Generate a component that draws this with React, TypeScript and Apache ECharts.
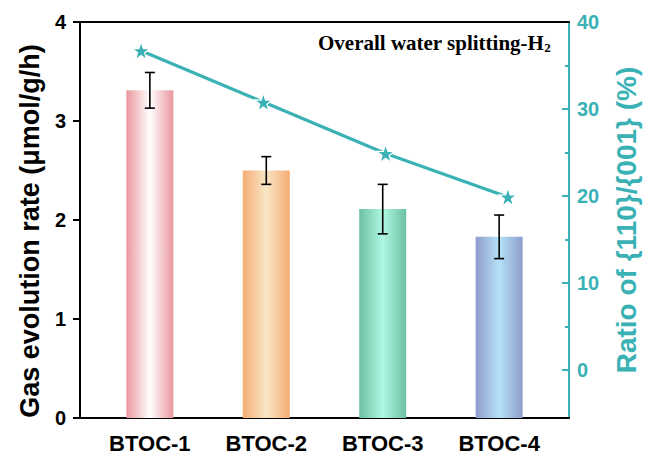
import React, { useEffect, useRef } from "react";
import * as echarts from "echarts";

const categories = ["BTOC-1", "BTOC-2", "BTOC-3", "BTOC-4"];
const rates = [3.31, 2.5, 2.11, 1.83];
const rateErrors = [0.18, 0.14, 0.25, 0.22];
const facetRatio = [36.7, 30.8, 24.9, 19.9];
const leftTicks = [0, 1, 2, 3, 4];
const rightTicks = [0, 10, 20, 30, 40];
const rightMinorTicks = [5, 15, 25, 35];

const barEdge = ["#E9979D", "#F5AD74", "#6BC0A4", "#8F9BCB"];
const barCenter = ["#FFFFFF", "#F9E6C6", "#AFF7E2", "#B5E3F7"];

// axis ranges
const X_MIN = -0.6;
const X_MAX = 3.6;
const Y_MIN = 0;
const Y_MAX = 4;

const TEAL = "#3AB2B5";
const STAR =
  "path://M50,0 L61.8,35.1 L97.6,34.5 L68.8,55.9 L79.4,90.5 L50,69.5 L20.6,90.5 L31.2,55.9 L2.4,34.5 L38.2,35.1 Z";

export default function App() {
  const ref = useRef<HTMLDivElement>(null);

  useEffect(() => {
    if (!ref.current) return;
    const chart = echarts.init(ref.current, null, { renderer: "svg" });

    const barData = rates.map((v, i) => ({
      value: [i, v],
      itemStyle: {
        color: new echarts.graphic.LinearGradient(0, 0, 1, 0, [
          { offset: 0, color: barEdge[i] },
          { offset: 0.5, color: barCenter[i] },
          { offset: 1, color: barEdge[i] },
        ]),
      },
    }));

    const errData = rates.map((v, i) => [i, v, rateErrors[i]]);

    chart.setOption({
      animation: false,
      backgroundColor: "#FFFFFF",
      title: {
        text: "Overall water splitting-H{sub|2}",
        left: 318,
        top: 31,
        padding: 0,
        textStyle: {
          fontFamily: "Liberation Serif",
          fontWeight: "bold",
          fontSize: 21,
          color: "#000",
          rich: {
            sub: {
              fontFamily: "Liberation Serif",
              fontWeight: "bold",
              fontSize: 13,
              color: "#000",
              padding: [10, 0, 0, 0],
            },
          },
        },
      },
      grid: { left: 80, right: 76, top: 22, bottom: 41 },
      xAxis: [
        {
          type: "value",
          min: X_MIN,
          max: X_MAX,
          position: "bottom",
          axisLine: { show: true, onZero: false, lineStyle: { color: "#000", width: 2 } },
          axisTick: { show: false },
          splitLine: { show: false },
          axisLabel: {
            customValues: [0, 1, 2, 3],
            formatter: (v: number) => categories[Math.round(v)] ?? "",
            color: "#000",
            fontFamily: "Liberation Sans",
            fontWeight: "bold",
            fontSize: 22,
            margin: 14,
          },
        },
        {
          type: "category",
          data: categories,
          position: "top",
          boundaryGap: true,
          axisLine: { show: true, onZero: false, lineStyle: { color: "#000", width: 2 } },
          axisTick: { show: false },
          axisLabel: { show: false },
          splitLine: { show: false },
        },
      ],
      yAxis: [
        {
          type: "value",
          min: Y_MIN,
          max: Y_MAX,
          interval: 1,
          position: "left",
          name: "Gas evolution rate (μmol/g/h)",
          nameLocation: "middle",
          nameRotate: 90,
          nameGap: 33,
          nameTextStyle: {
            fontFamily: "Liberation Sans",
            fontWeight: "bold",
            fontSize: 27,
            color: "#000",
            padding: [0, 22, 0, 0],
          },
          axisLine: { show: true, onZero: false, lineStyle: { color: "#000", width: 2 } },
          axisTick: { show: true, length: 7, lineStyle: { width: 2, color: "#000" } },
          splitLine: { show: false },
          axisLabel: {
            customValues: leftTicks,
            color: "#000",
            fontFamily: "Liberation Sans",
            fontWeight: "bold",
            fontSize: 20,
            margin: 14,
          },
        },
        {
          type: "value",
          min: -5.5,
          max: 40,
          position: "right",
          name: "Ratio of {110}/{001} (%)",
          nameLocation: "middle",
          nameRotate: 90,
          nameGap: 43,
          nameTextStyle: {
            fontFamily: "Liberation Sans",
            fontWeight: "bold",
            fontSize: 28,
            color: TEAL,
          },
          axisLine: { show: true, onZero: false, lineStyle: { color: TEAL, width: 2 } },
          axisTick: {
            show: true,
            inside: true,
            length: 7,
            customValues: rightTicks,
            lineStyle: { width: 2, color: TEAL },
          },
          splitLine: { show: false },
          axisLabel: {
            customValues: rightTicks,
            color: TEAL,
            fontFamily: "Liberation Sans",
            fontWeight: "bold",
            fontSize: 20,
            margin: 8,
          },
        },
        {
          type: "value",
          min: -5.5,
          max: 40,
          position: "right",
          axisLine: { show: false, onZero: false },
          axisTick: {
            show: true,
            inside: true,
            length: 4,
            customValues: rightMinorTicks,
            lineStyle: { width: 2, color: TEAL },
          },
          splitLine: { show: false },
          axisLabel: { show: false },
        },
      ],
      series: [
        {
          // left and top frame edges plus the left-axis tick marks
          type: "custom",
          xAxisIndex: 0,
          yAxisIndex: 0,
          clip: false,
          silent: true,
          z: 1,
          data: [[X_MIN, Y_MIN]],
          encode: { x: 0, y: 1 },
          renderItem: (_params: any, api: any) => {
            const tl = api.coord([X_MIN, Y_MAX]);
            const bl = api.coord([X_MIN, Y_MIN]);
            const tr = api.coord([X_MAX, Y_MAX]);
            const style = { stroke: "#000", lineWidth: 2 };
            const ticks = leftTicks.map((v) => {
              const p = api.coord([X_MIN, v]);
              return { type: "line", shape: { x1: p[0] - 7, y1: p[1], x2: p[0], y2: p[1] }, style };
            });
            return {
              type: "group",
              children: [
                { type: "line", shape: { x1: tl[0], y1: tl[1] - 1, x2: bl[0], y2: bl[1] + 1 }, style },
                { type: "line", shape: { x1: tl[0], y1: tl[1], x2: tr[0], y2: tr[1] }, style },
                ...ticks,
              ],
            };
          },
        },
        {
          type: "bar",
          xAxisIndex: 0,
          yAxisIndex: 0,
          barWidth: 47,
          data: barData,
        },
        {
          type: "custom",
          xAxisIndex: 0,
          yAxisIndex: 0,
          z: 5,
          data: errData,
          encode: { x: 0, y: 1 },
          renderItem: (_params: any, api: any) => {
            const x = api.value(0);
            const y = api.value(1);
            const e = api.value(2);
            const top = api.coord([x, y + e]);
            const bot = api.coord([x, y - e]);
            const half = 5;
            const style = { stroke: "#000", lineWidth: 1.6 };
            return {
              type: "group",
              children: [
                { type: "line", shape: { x1: top[0], y1: top[1], x2: bot[0], y2: bot[1] }, style },
                { type: "line", shape: { x1: top[0] - half, y1: top[1], x2: top[0] + half, y2: top[1] }, style },
                { type: "line", shape: { x1: bot[0] - half, y1: bot[1], x2: bot[0] + half, y2: bot[1] }, style },
              ],
            };
          },
        },
        {
          type: "line",
          xAxisIndex: 1,
          yAxisIndex: 1,
          z: 6,
          data: facetRatio,
          symbol: STAR,
          symbolSize: 18,
          lineStyle: { color: TEAL, width: 3.2 },
          itemStyle: { color: TEAL, borderColor: "#FFFFFF", borderWidth: 1.2 },
        },
      ],
    });

    return () => chart.dispose();
  }, []);

  return (
    <div
      ref={ref}
      style={{ position: "fixed", left: 0, top: 0, width: 648, height: 459 }}
    />
  );
}
